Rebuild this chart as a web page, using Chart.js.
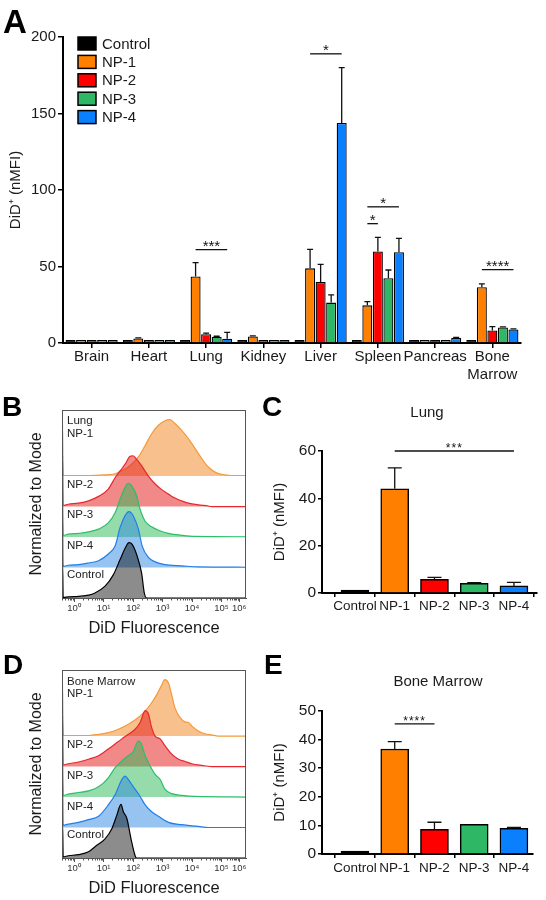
<!DOCTYPE html>
<html>
<head>
<meta charset="utf-8">
<script src="https://cdn.jsdelivr.net/npm/chart.js@4.4.1/dist/chart.umd.min.js"></script>
<style>
  body { margin: 0; background: #fff; font-family: "Liberation Sans", Arial, sans-serif; color: #1a1a1a; }
  #fig { position: relative; width: 546px; height: 900px; overflow: hidden; }
  canvas, .t { position: absolute; }
  .t { line-height: 1; white-space: nowrap; }
  .letter { font-weight: bold; color: #000; }
  .hl { font-size: 11.5px; left: 67px; color: #222; }
  .ttl { font-size: 15px; text-align: center; }
</style>
</head>
<body>
<div id="fig">
  <canvas id="chartA" width="546" height="385" style="left:0;top:0"></canvas>
  <canvas id="chartB" width="262" height="240" style="left:0;top:400px"></canvas>
  <canvas id="chartC" width="284" height="225" style="left:262px;top:395px"></canvas>
  <canvas id="chartD" width="262" height="240" style="left:0;top:660px"></canvas>
  <canvas id="chartE" width="284" height="260" style="left:262px;top:640px"></canvas>

  <div class="t letter" style="font-size:33px;left:3px;top:5px">A</div>
  <div class="t letter" style="font-size:28px;left:2px;top:393px">B</div>
  <div class="t letter" style="font-size:28px;left:262px;top:393px">C</div>
  <div class="t letter" style="font-size:28px;left:3px;top:651px">D</div>
  <div class="t letter" style="font-size:28px;left:264px;top:651px">E</div>

  <div class="t ttl" style="left:377px;top:404px;width:100px">Lung</div>
  <div class="t ttl" style="left:368px;top:673px;width:140px">Bone Marrow</div>

  <div class="t hl" style="top:415px">Lung</div>
  <div class="t hl" style="top:428px">NP-1</div>
  <div class="t hl" style="top:479px">NP-2</div>
  <div class="t hl" style="top:509px">NP-3</div>
  <div class="t hl" style="top:540px">NP-4</div>
  <div class="t hl" style="top:569px">Control</div>

  <div class="t hl" style="top:676px">Bone Marrow</div>
  <div class="t hl" style="top:688px">NP-1</div>
  <div class="t hl" style="top:739px">NP-2</div>
  <div class="t hl" style="top:770px">NP-3</div>
  <div class="t hl" style="top:801px">NP-4</div>
  <div class="t hl" style="top:829px">Control</div>
</div>
<script>
// ---- data ----
var groups = ['Control', 'NP-1', 'NP-2', 'NP-3', 'NP-4'];
var organs = ['Brain', 'Heart', 'Lung', 'Kidney', 'Liver', 'Spleen', 'Pancreas', ['Bone', 'Marrow']];

// panel A, DiD+ (nMFI) per organ
var controlMean = [0.6, 0.7, 0.7, 0.6, 0.7, 0.7, 0.6, 0.7];
var np1Mean = [0.5, 3.0, 43.5, 4.3, 48.8, 24.6, 0.5, 36.5];
var np2Mean = [0.4, 1.0, 5.8, 1.2, 39.9, 59.8, 2.0, 8.2];
var np3Mean = [0.4, 0.5, 4.1, 1.5, 26.4, 42.4, 1.2, 10.2];
var np4Mean = [0.5, 0.6, 2.8, 2.0, 143.8, 59.3, 3.3, 8.9];
var controlSd = [0, 0, 0, 0, 0, 0, 0, 0];
var np1Sd = [0, 0.3, 9.0, 0.4, 12.4, 2.4, 0, 2.2];
var np2Sd = [0, 0, 0.7, 0, 11.5, 9.3, 0, 2.5];
var np3Sd = [0, 0, 0.3, 0, 5.0, 5.3, 0, 0.3];
var np4Sd = [0, 0, 4.2, 0, 36.2, 9.1, 0.3, 0.3];

// significance bars in A: organ index, series from/to, height, label
var sigOrgan = [2, 4, 5, 5, 7];
var sigFrom = [1, 1, 1, 1, 1];
var sigTo = [4, 4, 2, 4, 4];
var sigAt = [61, 189, 78, 89, 48];
var sigMark = ['***', '*', '*', '*', '****'];

// panel C (lung) and E (bone marrow)
var lungMean = [0.9, 44.0, 5.8, 4.1, 3.0];
var lungSd = [0, 8.9, 0.8, 0.3, 1.5];
var marrowMean = [0.8, 36.7, 8.6, 10.4, 9.0];
var marrowSd = [0, 2.6, 2.5, 0, 0.3];

// histograms: [log10 fluorescence, % of mode]
var lungCtrl = [[-0.41,0],[-0.39,60],[-0.37,1],[-0.2,2],[0.15,3],[0.49,5],[0.71,9],[1.05,21],[1.33,41],[1.56,68],[1.73,88],[1.86,98],[1.97,95],[2.12,77],[2.29,44],[2.38,9],[2.46,0],[5.83,0]];
var lungNp4 = [[-0.41,0],[-0.39,90],[-0.37,2],[-0.2,4],[0.15,5],[0.49,8],[0.83,12],[1.16,24],[1.39,38],[1.56,71],[1.73,92],[1.86,99],[2.0,92],[2.18,68],[2.31,38],[2.52,18],[2.75,10],[3.08,5],[3.65,3],[4.21,1],[5.83,0.5]];
var lungNp3 = [[-0.41,0],[-0.39,90],[-0.37,3],[-0.2,5],[0.15,6.5],[0.49,9],[0.83,14],[1.16,25],[1.39,43],[1.56,67],[1.73,88],[1.84,95],[1.95,91],[2.12,73],[2.24,49],[2.41,28],[2.63,18],[2.86,12],[3.2,6.5],[3.65,3],[4.1,1],[5.83,0.5]];
var lungNp2 = [[-0.41,0],[-0.39,90],[-0.37,2],[-0.2,4],[0.15,6],[0.49,10],[0.83,18],[1.16,31],[1.39,51],[1.56,63],[1.73,75],[1.9,89],[2.0,90],[2.12,84],[2.29,72],[2.52,54],[2.75,40],[2.97,30],[3.2,22],[3.42,15],[3.65,10],[3.88,6],[4.21,3],[4.55,1],[4.66,0],[5.83,0]];
var lungNp1 = [[-0.41,0],[-0.39,90],[-0.37,1],[0.5,1],[1.0,2],[1.39,4],[1.62,10],[1.84,16],[2.18,34],[2.41,54],[2.63,75],[2.86,90],[3.08,98],[3.25,100],[3.42,93],[3.65,81],[3.88,66],[4.1,49],[4.33,31],[4.55,16],[4.78,7],[5.0,3],[5.34,1],[5.83,1]];

var marrowCtrl = [[-0.41,0],[-0.39,60],[-0.37,2],[-0.2,4],[0.15,6],[0.49,11],[0.71,20],[1.05,34],[1.28,52],[1.45,76],[1.59,95],[1.67,82],[1.79,70],[1.93,34],[2.07,4],[2.12,0],[5.83,0]];
var marrowNp4 = [[-0.41,0],[-0.39,90],[-0.37,4],[-0.2,6],[0.15,9],[0.49,14],[0.83,20],[1.16,40],[1.39,58],[1.62,85],[1.73,91],[1.84,85],[2.0,73],[2.24,55],[2.41,40],[2.63,28],[2.86,20],[3.2,9],[3.65,5],[4.21,2],[4.55,0],[5.83,0]];
var marrowNp3 = [[-0.41,0],[-0.39,90],[-0.37,3],[-0.2,5],[0.15,8],[0.49,11],[0.83,18],[1.16,34],[1.39,52],[1.62,64],[1.84,73],[2.0,80],[2.18,99],[2.29,93],[2.41,73],[2.58,55],[2.75,40],[2.92,31],[3.08,14],[3.31,6],[3.65,3],[4.1,1],[5.83,0]];
var marrowNp2 = [[-0.41,0],[-0.39,90],[-0.37,3],[-0.2,5],[0.15,8],[0.49,13],[0.83,19],[1.16,31],[1.39,40],[1.62,49],[1.84,57],[2.07,66],[2.24,78],[2.41,99],[2.52,93],[2.63,69],[2.75,54],[2.92,49],[3.08,37],[3.31,22],[3.54,13],[3.76,9],[3.99,5],[4.33,2],[4.66,0],[5.83,0]];
var marrowNp1 = [[-0.41,0],[-0.39,90],[-0.37,1],[0.5,1],[0.83,3],[1.16,6],[1.5,12],[1.84,21],[2.18,33],[2.41,44],[2.63,59],[2.8,73],[2.95,88],[3.08,100],[3.2,94],[3.31,73],[3.42,50],[3.59,33],[3.76,25],[3.88,24],[3.99,18],[4.21,9],[4.44,4],[4.67,2],[4.89,0],[5.83,0]];

var decadeTicks = [0, 1, 2, 3, 4, 5, 5.6];
var decadeLabels = ['10\u2070', '10\u00b9', '10\u00b2', '10\u00b3', '10\u2074', '10\u2075', '10\u2076'];

// ---- styles ----
var barColors = ['#000000', '#ff8000', '#ff0000', '#2eb866', '#0a80ff'];
// histogram layers drawn top to bottom: Control, NP-4, NP-3, NP-2, NP-1
var histLine = ['#000000', '#1f7eea', '#2cbe6b', '#e8262d', '#f39a3b'];
var histFill = ['rgba(0,0,0,0.45)', 'rgba(45,135,225,0.5)', 'rgba(45,185,85,0.5)', 'rgba(228,20,20,0.5)', 'rgba(242,140,46,0.55)'];
var bandOffset = [0, 54, 108, 162, 216];

Chart.defaults.font.family = '"Liberation Sans", Arial, sans-serif';
Chart.defaults.color = '#1a1a1a';

// ---- plugins ----
var errorBars = {
  id: 'errorBars',
  afterDatasetsDraw: function (chart, args, opts) {
    var ctx = chart.ctx, ys = chart.scales.y;
    ctx.save();
    ctx.strokeStyle = '#111';
    ctx.lineWidth = 1.3;
    chart.data.datasets.forEach(function (ds, di) {
      if (!ds.sd) return;
      chart.getDatasetMeta(di).data.forEach(function (bar, i) {
        var sd = ds.sd[i];
        if (!sd) return;
        var v = ds.data[i];
        var mean = typeof v === 'object' ? v.y : v;
        var yTop = ys.getPixelForValue(mean + sd);
        ctx.beginPath();
        ctx.moveTo(bar.x, bar.y);
        ctx.lineTo(bar.x, yTop);
        ctx.moveTo(bar.x - opts.cap / 2, yTop);
        ctx.lineTo(bar.x + opts.cap / 2, yTop);
        ctx.stroke();
      });
    });
    ctx.restore();
  }
};

var brackets = {
  id: 'brackets',
  afterDatasetsDraw: function (chart, args, opts) {
    var ctx = chart.ctx, ys = chart.scales.y;
    ctx.save();
    ctx.strokeStyle = '#111';
    ctx.fillStyle = '#111';
    ctx.lineWidth = 1.3;
    ctx.font = opts.font;
    if (opts.spacing) ctx.letterSpacing = opts.spacing;
    ctx.textAlign = 'center';
    opts.items.forEach(function (b) {
      var x0 = chart.getDatasetMeta(b.a[0]).data[b.a[1]].x;
      var x1 = chart.getDatasetMeta(b.b[0]).data[b.b[1]].x;
      var y = ys.getPixelForValue(b.at);
      ctx.beginPath();
      ctx.moveTo(x0, y);
      ctx.lineTo(x1, y);
      ctx.stroke();
      ctx.fillText(b.mark, (x0 + x1) / 2, y + opts.rise);
    });
    ctx.restore();
  }
};

var boxLegend = {
  id: 'boxLegend',
  afterDraw: function (chart) {
    var ctx = chart.ctx, a = chart.chartArea;
    ctx.save();
    ctx.font = '15px "Liberation Sans", Arial, sans-serif';
    ctx.textBaseline = 'middle';
    chart.data.datasets.forEach(function (ds, i) {
      var y = a.top + 6.5 + i * 18.4;
      ctx.fillStyle = ds.backgroundColor;
      ctx.fillRect(a.left + 15, y - 6.5, 18, 13);
      ctx.lineWidth = 1.5;
      ctx.strokeStyle = '#000';
      ctx.strokeRect(a.left + 15, y - 6.5, 18, 13);
      ctx.fillStyle = '#1a1a1a';
      ctx.fillText(ds.label, a.left + 39, y + 1);
    });
    ctx.restore();
  }
};

var histFrame = {
  id: 'histFrame',
  afterDraw: function (chart) {
    var ctx = chart.ctx, a = chart.chartArea, xs = chart.scales.x;
    var last = decadeTicks[decadeTicks.length - 1];
    ctx.save();
    ctx.strokeStyle = '#555';
    ctx.lineWidth = 1;
    ctx.strokeRect(a.left + 0.5, a.top + 0.5, a.right - a.left - 1, a.bottom - a.top);
    ctx.beginPath();
    for (var d = -1; d <= 5; d++) {
      for (var k = 2; k < 10; k++) {
        var v = d < 5 ? d + Math.log10(k) : 5 + (last - 5) * Math.log10(k);
        if (v < xs.min || v > xs.max) continue;
        var px = Math.round(xs.getPixelForValue(v)) + 0.5;
        ctx.moveTo(px, a.bottom);
        ctx.lineTo(px, a.bottom + 2.5);
      }
    }
    ctx.stroke();
    ctx.restore();
  }
};

// ---- panel A ----
var means = [controlMean, np1Mean, np2Mean, np3Mean, np4Mean];
var sds = [controlSd, np1Sd, np2Sd, np3Sd, np4Sd];
var sigItems = sigOrgan.map(function (o, i) {
  return { a: [sigFrom[i], o], b: [sigTo[i], o], at: sigAt[i], mark: sigMark[i] };
});

new Chart(document.getElementById('chartA'), {
  type: 'bar',
  data: {
    labels: organs,
    datasets: groups.map(function (g, i) {
      return {
        label: g, data: means[i], sd: sds[i],
        backgroundColor: barColors[i], borderColor: '#000', borderWidth: 1.3,
        categoryPercentage: 0.92, barPercentage: 0.95, minBarLength: 3
      };
    })
  },
  options: {
    responsive: false,
    animation: false,
    layout: { padding: { top: 37, right: 25, left: 0, bottom: 0 } },
    plugins: {
      legend: { display: false },
      tooltip: { enabled: false },
      errorBars: { cap: 6 },
      brackets: { items: sigItems, font: '15px "Liberation Sans", Arial, sans-serif', rise: 1.5 }
    },
    scales: {
      x: {
        afterFit: function (s) { s.height = 42; },
        grid: { offset: false, drawOnChartArea: false, tickLength: 5, color: '#000', lineWidth: 1.5 },
        border: { color: '#000', width: 2 },
        ticks: { font: { size: 15 }, color: '#1a1a1a', padding: 0, maxRotation: 0, autoSkip: false }
      },
      y: {
        min: 0, max: 200,
        afterFit: function (s) { s.width = 63; },
        ticks: { stepSize: 50, font: { size: 15 }, color: '#1a1a1a', padding: 2 },
        grid: { drawOnChartArea: false, tickLength: 5, color: '#000', lineWidth: 1.5 },
        border: { color: '#000', width: 2 },
        title: { display: true, text: 'DiD\u207a (nMFI)', font: { size: 15 }, color: '#1a1a1a', padding: { top: 7, bottom: 0 } }
      }
    }
  },
  plugins: [errorBars, brackets, boxLegend]
});

// ---- panels B and D ----
function histChart(id, curves) {
  new Chart(document.getElementById(id), {
    type: 'line',
    data: {
      datasets: curves.map(function (pts, i) {
        return {
          data: pts.map(function (p) { return { x: p[0], y: bandOffset[i] + p[1] }; }),
          borderColor: histLine[i], backgroundColor: histFill[i], borderWidth: 1.2,
          fill: { value: bandOffset[i] }, pointRadius: 0, cubicInterpolationMode: 'monotone'
        };
      })
    },
    options: {
      responsive: false,
      animation: false,
      layout: { padding: { top: 10, right: 16, left: 0, bottom: 0 } },
      plugins: { legend: { display: false }, tooltip: { enabled: false } },
      scales: {
        x: {
          type: 'linear', min: -0.41, max: 5.83,
          afterBuildTicks: function (s) { s.ticks = decadeTicks.map(function (v) { return { value: v }; }); },
          afterFit: function (s) { s.height = 42; },
          ticks: { callback: function (v, i) { return decadeLabels[i]; }, font: { size: 9.5 }, color: '#333', padding: 1, maxRotation: 0, autoSkip: false },
          grid: { drawOnChartArea: false, tickLength: 4, color: '#555' },
          border: { color: '#555', width: 1 },
          title: { display: true, text: 'DiD Fluorescence', font: { size: 16.5 }, color: '#1a1a1a', padding: { top: 0, bottom: 2 } }
        },
        y: {
          min: 0, max: 333,
          afterFit: function (s) { s.width = 62; },
          ticks: { display: false },
          grid: { display: false, drawTicks: false },
          border: { color: '#555', width: 1 },
          title: { display: true, text: 'Normalized to Mode', font: { size: 16 }, color: '#1a1a1a', padding: { top: 27, bottom: 0 } }
        }
      }
    },
    plugins: [histFrame]
  });
}
histChart('chartB', [lungCtrl, lungNp4, lungNp3, lungNp2, lungNp1]);
histChart('chartD', [marrowCtrl, marrowNp4, marrowNp3, marrowNp2, marrowNp1]);

// ---- panels C and E ----
function groupChart(id, vals, err, yMax, yStep, xMax, padTop, padRight, xHeight, tickPad, sig) {
  new Chart(document.getElementById(id), {
    type: 'bar',
    data: {
      datasets: [{
        data: vals.map(function (v, i) { return { x: i, y: v }; }),
        sd: err,
        backgroundColor: barColors, borderColor: '#000', borderWidth: 1.5, barThickness: 28, minBarLength: 3
      }]
    },
    options: {
      responsive: false,
      animation: false,
      layout: { padding: { top: padTop, right: padRight, left: 0, bottom: 0 } },
      plugins: {
        legend: { display: false },
        tooltip: { enabled: false },
        errorBars: { cap: 14 },
        brackets: { items: [sig], font: '12px "Liberation Sans", Arial, sans-serif', rise: 1, spacing: '1px' }
      },
      scales: {
        x: {
          type: 'linear', min: -0.83, max: xMax, offset: false,
          afterBuildTicks: function (s) { s.ticks = groups.map(function (g, i) { return { value: i }; }); },
          afterFit: function (s) { s.height = xHeight; },
          ticks: { callback: function (v, i) { return groups[i]; }, font: { size: 13.5 }, color: '#1a1a1a', padding: tickPad, maxRotation: 0, autoSkip: false },
          grid: { drawOnChartArea: false, tickLength: 4, color: '#000', lineWidth: 1.5 },
          border: { color: '#000', width: 2 }
        },
        y: {
          min: 0, max: yMax,
          afterFit: function (s) { s.width = 60; },
          ticks: { stepSize: yStep, font: { size: 15.5 }, color: '#1a1a1a', padding: 2 },
          grid: { drawOnChartArea: false, tickLength: 4, color: '#000', lineWidth: 1.5 },
          border: { color: '#000', width: 2 },
          title: { display: true, text: 'DiD\u207a (nMFI)', font: { size: 15 }, color: '#1a1a1a', padding: { top: 9, bottom: 0 } }
        }
      }
    },
    plugins: [errorBars, brackets]
  });
}
groupChart('chartC', lungMean, lungSd, 60, 20, 4.58, 56, 9, 27, 1,
  { a: [0, 1], b: [0, 4], at: 60, mark: '***' });
groupChart('chartE', marrowMean, marrowSd, 50, 10, 4.48, 71, 13, 46, 2,
  { a: [0, 1], b: [0, 2], at: 45.5, mark: '****' });
</script>
</body>
</html>
